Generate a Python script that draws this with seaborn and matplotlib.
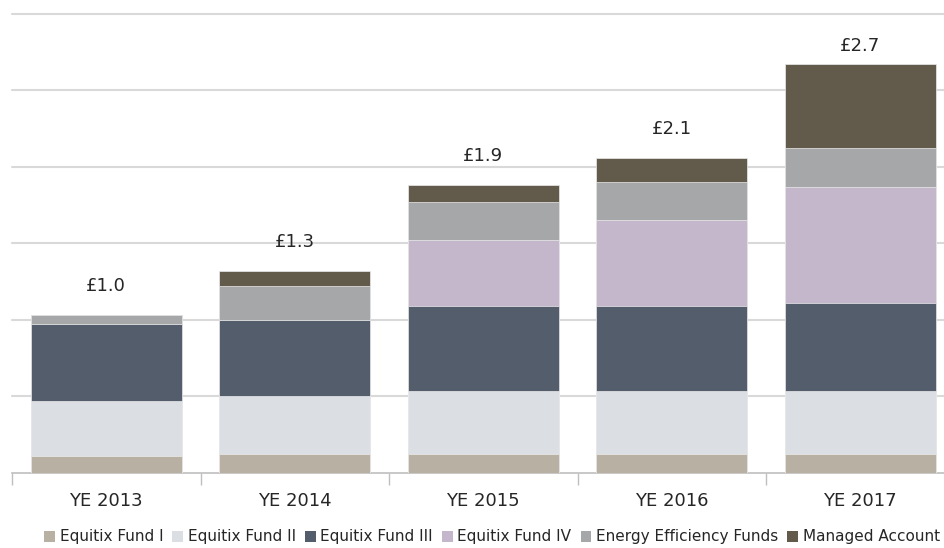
import numpy as np
import pandas as pd
import matplotlib
matplotlib.use("Agg")
import matplotlib.pyplot as plt
from matplotlib.patches import Patch
import seaborn as sns

# data (GBP bn)
years = ["YE 2013", "YE 2014", "YE 2015", "YE 2016", "YE 2017"]
fund_1 = [0.11, 0.12, 0.12, 0.12, 0.12]
fund_2 = [0.36, 0.38, 0.41, 0.41, 0.41]
fund_3 = [0.50, 0.50, 0.56, 0.56, 0.58]
fund_4 = [0.00, 0.00, 0.43, 0.56, 0.76]
energy_eff = [0.06, 0.22, 0.25, 0.25, 0.25]
managed = [0.00, 0.10, 0.11, 0.16, 0.55]

series_names = ["Equitix Fund I", "Equitix Fund II", "Equitix Fund III",
                "Equitix Fund IV", "Energy Efficiency Funds", "Managed Account"]
colors = ["#b8b0a2", "#dbdee3", "#535d6c", "#c4b6cb", "#a6a7a8", "#625a4b"]

sns.set_theme(style="white")
plt.rcParams["font.family"] = ["Liberation Sans Narrow", "DejaVu Sans"]

df = pd.DataFrame({"year": years, "Equitix Fund I": fund_1, "Equitix Fund II": fund_2,
                   "Equitix Fund III": fund_3, "Equitix Fund IV": fund_4,
                   "Energy Efficiency Funds": energy_eff, "Managed Account": managed})
cum = df[series_names].cumsum(axis=1)
totals = cum[series_names[-1]]

fig = plt.figure(figsize=(9.44, 5.48), dpi=100)
ax = fig.add_axes([12 / 944, 75.5 / 548, 942.5 / 944, 458.5 / 548])

# draw cumulative heights from the top down so lower segments paint over
for name, col in reversed(list(zip(series_names, colors))):
    sns.barplot(x=df["year"], y=cum[name], color=col, width=0.8, saturation=1,
                edgecolor="#ececec", linewidth=0.5, ax=ax, zorder=3)

for i, t in enumerate(totals):
    ax.text(i, min(t + 0.19, 2.79), f"£{t:.1f}", ha="center", va="center",
            fontsize=13, color="#262626")

ax.set_ylim(0, 3.0)
ax.set_xlim(-0.5, 4.5)
ax.set_yticks(np.arange(0.5, 3.01, 0.5))
ax.set_yticklabels([])
ax.yaxis.grid(True, color="#d9d9d9", linewidth=1.5)
for gl in ax.get_ygridlines():
    gl.set_clip_on(False)
ax.set_axisbelow(True)
ax.set_xlabel("")
ax.set_ylabel("")
for s in ["left", "right", "top"]:
    ax.spines[s].set_visible(False)
ax.spines["bottom"].set_color("#bfbfbf")
ax.spines["bottom"].set_linewidth(1.2)
ax.set_xticks(np.arange(-0.5, 5, 1), minor=True)
ax.tick_params(axis="x", which="minor", bottom=True, length=8.5, width=1,
               color="#bfbfbf", direction="out")
ax.tick_params(axis="x", which="major", length=0, pad=14, labelsize=13, labelcolor="#262626")
ax.tick_params(axis="y", length=0)

handles = [Patch(facecolor=c, edgecolor="none", label=n) for n, c in zip(series_names, colors)]
fig.legend(handles=handles, loc="center", bbox_to_anchor=(492 / 944, 1 - 537 / 548), ncol=6,
           frameon=False, fontsize=11, handlelength=0.7, handleheight=0.7,
           handletextpad=0.3, columnspacing=0.6, labelcolor="#262626")

fig.savefig("out.png", dpi=100)
